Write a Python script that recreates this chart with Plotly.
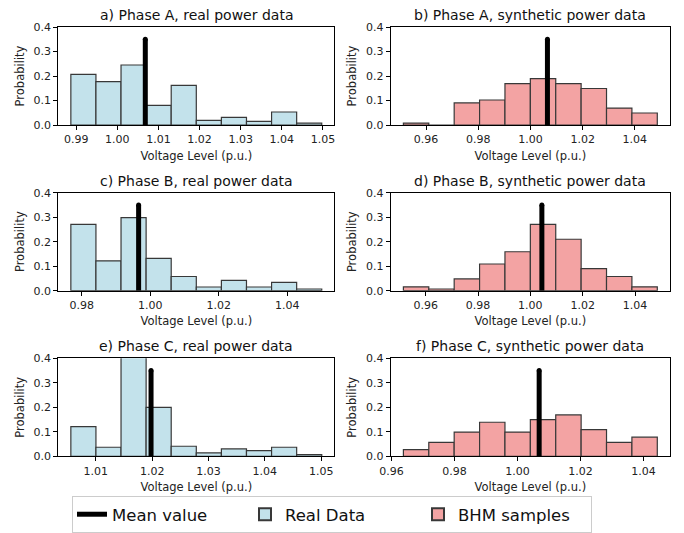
import plotly.graph_objects as go

W, H = 684, 533
FONT = "DejaVu Sans"

# ---------------- data ----------------
panel_titles = [
    "a) Phase A, real power data",
    "b) Phase A, synthetic power data",
    "c) Phase B, real power data",
    "d) Phase B, synthetic power data",
    "e) Phase C, real power data",
    "f) Phase C, synthetic power data",
]

# histogram bin start and bin width per panel
bin_start_a, bin_width_a = 0.9887, 0.0061
bin_start_b, bin_width_b = 0.9513, 0.00973
bin_start_c, bin_width_c = 0.9768, 0.00733
bin_start_d, bin_width_d = 0.9515, 0.0097
bin_start_e, bin_width_e = 1.00556, 0.004455
bin_start_f, bin_width_f = 0.9638, 0.00806

# probabilities per bin
heights_a = [0.207, 0.177, 0.245, 0.080, 0.162, 0.019, 0.031, 0.015, 0.053, 0.008]
heights_b = [0.008, 0.000, 0.090, 0.102, 0.169, 0.189, 0.169, 0.149, 0.069, 0.049]
heights_c = [0.271, 0.122, 0.298, 0.132, 0.058, 0.015, 0.042, 0.015, 0.034, 0.007]
heights_d = [0.016, 0.007, 0.048, 0.109, 0.159, 0.271, 0.210, 0.090, 0.058, 0.016]
heights_e = [0.121, 0.037, 0.490, 0.200, 0.041, 0.014, 0.030, 0.023, 0.037, 0.007]
heights_f = [0.027, 0.057, 0.099, 0.139, 0.099, 0.150, 0.169, 0.109, 0.057, 0.078]

# mean voltage per panel
mean_a, mean_b, mean_c = 1.0068, 1.0065, 0.9966
mean_d, mean_e, mean_f = 1.0044, 1.0198, 1.0069
mean_line_height = 0.35

# tick labels
ticks_a = [0.99, 1.00, 1.01, 1.02, 1.03, 1.04, 1.05]
ticks_b = [0.96, 0.98, 1.00, 1.02, 1.04]
ticks_c = [0.98, 1.00, 1.02, 1.04]
ticks_d = [0.96, 0.98, 1.00, 1.02, 1.04]
ticks_e = [1.01, 1.02, 1.03, 1.04, 1.05]
ticks_f = [0.96, 0.98, 1.00, 1.02, 1.04]
y_ticks = [0.0, 0.1, 0.2, 0.3, 0.4]

series_names = ["Mean value", "Real Data", "BHM samples"]

panels = [
    (bin_start_a, bin_width_a, heights_a, mean_a, ticks_a, "real"),
    (bin_start_b, bin_width_b, heights_b, mean_b, ticks_b, "bhm"),
    (bin_start_c, bin_width_c, heights_c, mean_c, ticks_c, "real"),
    (bin_start_d, bin_width_d, heights_d, mean_d, ticks_d, "bhm"),
    (bin_start_e, bin_width_e, heights_e, mean_e, ticks_e, "real"),
    (bin_start_f, bin_width_f, heights_f, mean_f, ticks_f, "bhm"),
]

# ---------------- styling / layout ----------------
fill = {"real": "#c3e2eb", "bhm": "#f3a3a3"}
edge = "#383838"
col_px = [(58.3, 334.3), (390.7, 670.0)]
row_px = [(27.0, 125.0), (192.7, 290.7), (358.3, 456.3)]

fig = go.Figure()
layout = dict(
    width=W, height=H, autosize=False,
    margin=dict(l=0, r=0, t=0, b=0),
    template="none",
    paper_bgcolor="white", plot_bgcolor="white",
    font=dict(family=FONT, size=11, color="#222222"),
    barmode="overlay",
    showlegend=True,
    legend=dict(
        orientation="h", x=72 / W, xanchor="left", y=0.0, yanchor="bottom",
        bordercolor="#cccccc", borderwidth=1, bgcolor="white",
        font=dict(family=FONT, size=16.5, color="#111111"),
        entrywidth=128, entrywidthmode="pixels",
        itemsizing="constant",
    ),
)
annotations = []
shown = set()

for i, (start, w, heights, mean, ticks, kind) in enumerate(panels):
    k = i + 1
    r, c = i // 2, i % 2
    xs = "x" if k == 1 else f"x{k}"
    ys = "y" if k == 1 else f"y{k}"
    n = len(heights)
    centers = [start + (j + 0.5) * w for j in range(n)]
    name = series_names[1] if kind == "real" else series_names[2]
    fig.add_trace(go.Bar(
        x=centers, y=heights, width=[w] * n,
        marker=dict(color=fill[kind], line=dict(color=edge, width=1.2)),
        xaxis=xs, yaxis=ys, name=name, legendgroup=kind,
        showlegend=kind not in shown, legendrank=2 if kind == "real" else 3,
        hoverinfo="skip",
    ))
    shown.add(kind)
    fig.add_trace(go.Scatter(
        x=[mean, mean], y=[0, mean_line_height], mode="lines",
        line=dict(color="black", width=5),
        xaxis=xs, yaxis=ys, name=series_names[0], legendgroup="mean",
        showlegend=(i == 0), legendrank=1, hoverinfo="skip",
    ))
    # round cap at the top of the mean line
    fig.add_trace(go.Scatter(
        x=[mean], y=[mean_line_height], mode="markers",
        marker=dict(color="black", size=5, symbol="circle", line=dict(width=0)),
        xaxis=xs, yaxis=ys, showlegend=False, legendgroup="mean", hoverinfo="skip",
    ))

    span = n * w
    x0, x1 = col_px[c]
    top, bot = row_px[r]
    xdom = [x0 / W, x1 / W]
    ydom = [1 - bot / H, 1 - top / H]
    axcommon = dict(
        showline=True, linecolor="black", linewidth=1, mirror=True,
        ticks="outside", ticklen=4, tickwidth=1, tickcolor="black",
        showgrid=False, zeroline=False, automargin=False,
        tickfont=dict(family=FONT, size=11, color="#222222"),
    )
    xk = "xaxis" if k == 1 else f"xaxis{k}"
    yk = "yaxis" if k == 1 else f"yaxis{k}"
    layout[xk] = dict(
        axcommon, domain=xdom, anchor=ys,
        range=[start - 0.05 * span, start + 1.05 * span],
        tickvals=ticks, tickformat=".2f",
        title=dict(text="Voltage Level (p.u.)", font=dict(family=FONT, size=11.5), standoff=6),
    )
    layout[yk] = dict(
        axcommon, domain=ydom, anchor=xs,
        range=[0, 0.4], tickvals=y_ticks, tickformat=".1f",
        title=dict(text="Probability", font=dict(family=FONT, size=11.5), standoff=6),
    )
    annotations.append(dict(
        text=panel_titles[i], xref="paper", yref="paper",
        x=(xdom[0] + xdom[1]) / 2, y=ydom[1], xanchor="center", yanchor="bottom",
        yshift=2, showarrow=False, font=dict(family=FONT, size=14, color="#111111"),
    ))

layout["annotations"] = annotations
fig.update_layout(**layout)
fig.write_html(
    "out.html",
    config={"displayModeBar": False},
    post_script="document.body.style.margin='0';",
)
